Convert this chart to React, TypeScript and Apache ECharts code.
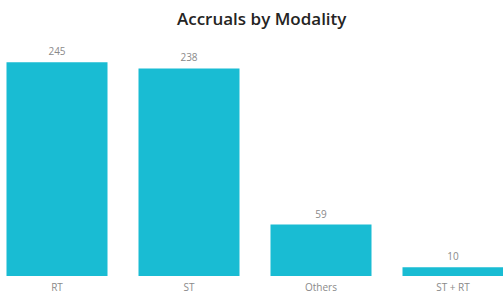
import React, { useEffect, useRef } from "react";
import * as echarts from "echarts";

const categories = ["RT", "ST", "Others", "ST + RT"];
const accruals = [245, 238, 59, 10];

export default function App() {
  const ref = useRef<HTMLDivElement>(null);
  useEffect(() => {
    if (!ref.current) return;
    const chart = echarts.init(ref.current, null, { renderer: "svg" });
    chart.setOption({
      animation: false,
      backgroundColor: "#ffffff",
      title: {
        text: "Accruals by Modality",
        left: 181,
        top: 5,
        textStyle: {
          fontFamily: "Open Sans",
          fontSize: 17,
          fontWeight: 600,
          color: "#252423",
        },
      },
      grid: { left: 0, right: 0, top: 58, bottom: 21, containLabel: false },
      xAxis: {
        type: "category",
        data: categories,
        axisLine: { show: false },
        axisTick: { show: false },
        axisLabel: {
          fontFamily: "Open Sans",
          fontSize: 10,
          color: "#8a8a8a",
          margin: 6,
        },
      },
      yAxis: {
        type: "value",
        min: 0,
        max: 250,
        show: false,
        splitLine: { show: false },
      },
      series: [
        {
          type: "bar",
          data: accruals,
          barWidth: 101,
          itemStyle: { color: "#19BCD3" },
          label: {
            show: true,
            position: "top",
            distance: 6,
            fontFamily: "Open Sans",
            fontSize: 10,
            color: "#8a8a8a",
          },
        },
      ],
    });
    return () => chart.dispose();
  }, []);
  return (
    <div style={{ position: "fixed", left: 0, top: 0, width: 503, height: 297, overflow: "hidden" }}>
      <div
        ref={ref}
        style={{ position: "absolute", left: -9, top: 0, width: 528, height: 297 }}
      />
    </div>
  );
}
